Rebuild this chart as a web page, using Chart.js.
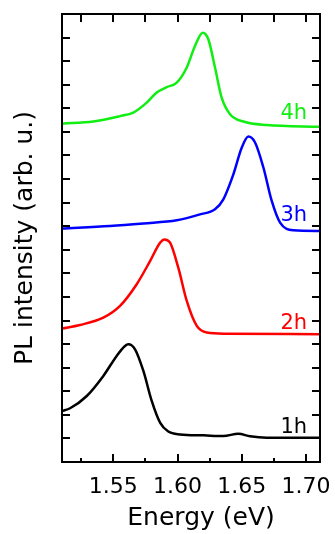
<!DOCTYPE html>
<html>
<head>
<meta charset="utf-8">
<script src="https://cdn.jsdelivr.net/npm/chart.js@4/dist/chart.umd.min.js"></script>
<style>
  html, body { margin: 0; padding: 0; background: #fff; overflow: hidden; }
  #wrap { width: 335px; height: 534px; position: relative; }
  canvas { display: block; }
</style>
</head>
<body>
<div id="wrap"><canvas id="plChart"></canvas></div>
<script>
  // PL spectra, offset vertically (arb. u.)
  const xTicks = [1.55, 1.60, 1.65, 1.70];
  const xMinorTicks = [1.525, 1.575, 1.625, 1.675];

  const e1h = [1.510, 1.5163, 1.5293, 1.5422, 1.5526, 1.5591, 1.5617, 1.5669, 1.5734, 1.5799, 1.5864, 1.5928, 1.602, 1.6201, 1.6357, 1.6474, 1.6565, 1.6695, 1.711];
  const i1h = [2.16, 2.28, 2.80, 3.65, 4.50, 4.92, 4.99, 4.78, 3.86, 2.59, 1.67, 1.29, 1.17, 1.13, 1.10, 1.20, 1.09, 1.03, 1.03];

  const e2h = [1.510, 1.524, 1.5422, 1.5552, 1.5682, 1.5786, 1.5864, 1.5897, 1.5942, 1.6006, 1.6072, 1.615, 1.6228, 1.6383, 1.711];
  const i2h = [5.66, 5.81, 6.12, 6.62, 7.54, 8.52, 9.30, 9.44, 9.30, 8.24, 6.83, 5.77, 5.49, 5.44, 5.42];

  const e3h = [1.510, 1.5474, 1.5734, 1.5994, 1.6175, 1.6292, 1.6357, 1.6435, 1.650, 1.6552, 1.6604, 1.6669, 1.6734, 1.6799, 1.6902, 1.711];
  const i3h = [9.90, 10.01, 10.12, 10.25, 10.50, 10.72, 11.14, 12.20, 13.33, 13.80, 13.55, 12.49, 11.07, 10.15, 9.83, 9.80];

  const e4h = [1.510, 1.5344, 1.5552, 1.5656, 1.576, 1.5838, 1.5916, 1.5994, 1.6072, 1.6136, 1.6196, 1.624, 1.6292, 1.6344, 1.6409, 1.6513, 1.6695, 1.711];
  const i4h = [14.35, 14.44, 14.67, 14.82, 15.24, 15.67, 15.90, 16.09, 16.73, 17.64, 18.21, 17.93, 16.73, 15.45, 14.75, 14.44, 14.29, 14.22];

  const seriesNames = ['1h', '2h', '3h', '4h'];
  const seriesColors = ['#000000', '#ff0000', '#0000ff', '#11ee11'];
  // label anchors (energy, intensity) for the series names
  const labelX = [1.701, 1.701, 1.701, 1.701];
  const labelY = [1.25, 5.63, 10.21, 14.53];

  const energies = [e1h, e2h, e3h, e4h];
  const intensities = [i1h, i2h, i3h, i4h];

  const FONT = "'DejaVu Sans', sans-serif";

  const framePlugin = {
    id: 'frame',
    afterDraw(chart) {
      const { ctx, chartArea: a, scales: { x, y } } = chart;
      ctx.save();
      ctx.strokeStyle = '#000';
      ctx.lineWidth = 2;
      ctx.lineCap = 'butt';
      ctx.strokeRect(a.left, a.top, a.right - a.left, a.bottom - a.top);
      ctx.beginPath();
      xTicks.forEach(v => {
        const px = Math.round(x.getPixelForValue(v));
        ctx.moveTo(px, a.bottom); ctx.lineTo(px, a.bottom - 8);
        ctx.moveTo(px, a.top); ctx.lineTo(px, a.top + 8);
      });
      xMinorTicks.forEach(v => {
        const px = Math.round(x.getPixelForValue(v));
        ctx.moveTo(px, a.bottom); ctx.lineTo(px, a.bottom - 4);
        ctx.moveTo(px, a.top); ctx.lineTo(px, a.top + 8);
      });
      for (let v = 1; v < 19; v++) {
        const py = Math.round(y.getPixelForValue(v));
        ctx.moveTo(a.left, py); ctx.lineTo(a.left + 8, py);
        ctx.moveTo(a.right, py); ctx.lineTo(a.right - 8, py);
      }
      ctx.stroke();

      ctx.font = '21px ' + FONT;
      ctx.textAlign = 'right';
      ctx.textBaseline = 'alphabetic';
      seriesNames.forEach((n, i) => {
        ctx.fillStyle = seriesColors[i];
        ctx.fillText(n, x.getPixelForValue(labelX[i]), y.getPixelForValue(labelY[i]));
      });

      // x-axis title, sits a little right of the plot centre in the original
      ctx.font = '25px ' + FONT;
      ctx.textAlign = 'center';
      ctx.fillStyle = '#000';
      ctx.fillText('Energy (eV)', (a.left + a.right) / 2 + 10, a.bottom + 63);
      ctx.restore();
    }
  };

  new Chart(document.getElementById('plChart'), {
    type: 'line',
    data: {
      datasets: seriesNames.map((n, i) => ({
        label: n,
        data: energies[i].map((e, j) => ({ x: e, y: intensities[i][j] })),
        borderColor: seriesColors[i],
        borderWidth: 2.5,
        pointRadius: 0,
        cubicInterpolationMode: 'monotone',
        fill: false,
      })),
    },
    options: {
      responsive: true,
      maintainAspectRatio: false,
      animation: false,
      layout: { padding: { left: 0, right: 15, top: 14, bottom: 0 } },
      plugins: { legend: { display: false }, tooltip: { enabled: false } },
      scales: {
        x: {
          type: 'linear',
          min: 1.51,
          max: 1.711,
          afterBuildTicks: s => { s.ticks = xTicks.map(v => ({ value: v })); },
          afterFit: s => { s.height = 72; s.paddingLeft = 0; s.paddingRight = 0; },
          grid: { display: false, drawTicks: false },
          border: { display: false },
          ticks: {
            color: '#000',
            padding: 12,
            font: { family: FONT, size: 22 },
            callback: v => Number(v).toFixed(2),
          },
          title: { display: false },
        },
        y: {
          min: 0,
          max: 19,
          afterFit: s => { s.width = 62; s.paddingTop = 0; s.paddingBottom = 0; },
          grid: { display: false, drawTicks: false },
          border: { display: false },
          ticks: { display: false },
          title: {
            display: true,
            text: 'PL intensity (arb. u.)',
            color: '#000',
            font: { family: FONT, size: 25 },
            padding: { top: 10, bottom: 0 },
          },
        },
      },
    },
    plugins: [framePlugin],
  });
</script>
</body>
</html>
